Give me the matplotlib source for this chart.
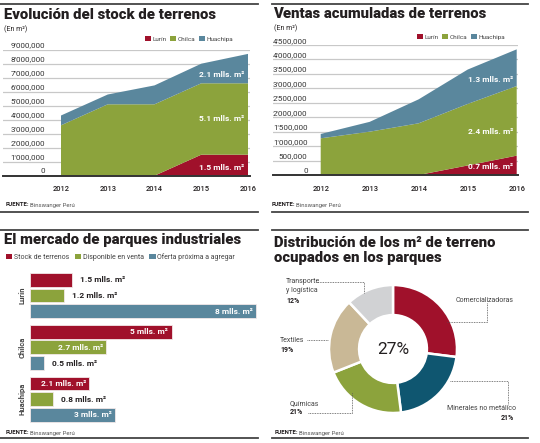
import numpy as np
import matplotlib
matplotlib.use("Agg")
import matplotlib.pyplot as plt
from matplotlib.patches import Patch
from matplotlib.lines import Line2D
from matplotlib.transforms import blended_transform_factory

plt.rcParams['font.family'] = ['Roboto', 'DejaVu Sans']

# ---- data ----
years = ["2012", "2013", "2014", "2015", "2016"]
zones = ["Lurín", "Chilca", "Huachipa"]

stock_lurin = [0, 0, 0, 1.5e6, 1.5e6]
stock_chilca = [3.6e6, 5.1e6, 5.1e6, 5.1e6, 5.1e6]
stock_huachipa = [0.7e6, 0.7e6, 1.35e6, 1.4e6, 2.1e6]
stock_ticks = np.arange(0, 9.5e6, 1e6)
stock_labels = ["1.5 mlls. m²", "5.1 mlls. m²", "2.1 mlls. m²"]

ventas_lurin = [0, 0, 0, 0.33e6, 0.67e6]
ventas_chilca = [1.27e6, 1.5e6, 1.79e6, 2.13e6, 2.41e6]
ventas_huachipa = [0.15e6, 0.34e6, 0.83e6, 1.19e6, 1.27e6]
ventas_ticks = np.arange(0, 4.75e6, 5e5)
ventas_labels = ["0.7 mlls. m²", "2.4 mlls. m²", "1.3 mlls. m²"]

bar_series = ["Stock de terrenos", "Disponible en venta", "Oferta próxima a agregar"]
bar_stock = [1.5, 5, 2.1]
bar_disp = [1.2, 2.7, 0.8]
bar_oferta = [8, 0.5, 3]

sectores = ["Comercializadoras", "Minerales no metálico", "Químicas", "Textiles", "Transporte\ny logística"]
sector_pct = [27, 21, 21, 19, 12]

RED = "#a0112b"
GREEN = "#8ca33c"
BLUE = "#5a879d"
TEAL = "#0f5670"
TAN = "#c9b896"
GRAY = "#d1d2d4"
DARK = "#231f20"

W, H = 540, 443
fig = plt.figure(figsize=(W / 100, H / 100), dpi=100)


def fx(x):
    return x / W


def fy(y):
    return 1 - y / H


def px_axes(x0, y0, x1, y1):
    return fig.add_axes([fx(x0), fy(y1), fx(x1 - x0), (y1 - y0) / H])


def rule(x0, x1, y):
    fig.add_artist(Line2D([fx(x0), fx(x1)], [fy(y), fy(y)], color="#444444", lw=1.3))


def title(x, y, txt):
    fig.text(fx(x), fy(y), txt, fontsize=10.7, fontweight="heavy", color=DARK, va="center")


def fuente(x, y):
    fig.text(fx(x), fy(y), "FUENTE:", fontsize=4.3, fontweight="bold", color=DARK, va="center")
    fig.text(fx(x + 24), fy(y), "Binswanger Perú", fontsize=4.3, color="#555555", va="center")


def fmt_num(v):
    v = int(round(v))
    if v == 0:
        return "0"
    m, t = divmod(v // 1000, 1000)
    if m:
        return f"{m}'{t:03d},000"
    return f"{t},000"


def area_panel(ax, lur, chi, hua, ticks, ymax, xlim, lab_x, labels, label_y):
    x = np.arange(len(years))
    ax.stackplot(x, lur, chi, hua, colors=[RED, GREEN, BLUE], lw=0)
    ax.set_xlim(*xlim)
    ax.set_ylim(0, ymax)
    for s in ax.spines.values():
        s.set_visible(False)
    for t in ticks[1:]:
        ax.axhline(t, color="#c8c8c8", lw=0.9, zorder=0)
    ax.axhline(0, color="#333333", lw=1.4, zorder=3, clip_on=False)
    ax.set_yticks([])
    ax.set_xticks(x)
    ax.set_xticklabels(years, fontsize=5.4, color=DARK, fontweight="medium")
    ax.tick_params(axis="x", length=0, pad=7)
    tr = blended_transform_factory(ax.transAxes, ax.transData)
    for t in ticks:
        ax.text(lab_x, t + ymax * 0.01, fmt_num(t), transform=tr, ha="right", va="bottom",
                fontsize=5.8, color="#333333")
    for v, txt in zip(label_y, labels):
        ax.text(3.93, v, txt, ha="right", va="center", fontsize=6, fontweight="bold", color="white")


def small_legend(x, y, names, colors, spacing, size=4.6):
    handles = [Patch(facecolor=c, edgecolor="none") for c in colors]
    fig.legend(handles, names, loc="center left", bbox_to_anchor=(fx(x), fy(y)), ncol=len(names),
               frameon=False, fontsize=size, handlelength=0.9, handleheight=0.9, handletextpad=0.25,
               columnspacing=spacing, borderpad=0, borderaxespad=0, labelcolor="#444444")


# ---- panel 1: evolucion del stock ----
rule(0, 258, 4)
title(4, 15, "Evolución del stock de terrenos")
fig.text(fx(4), fy(29), "(En m²)", fontsize=5, color=DARK, va="center")
small_legend(145, 39, zones, [RED, GREEN, BLUE], 0.6)
ax1 = px_axes(3, 49.7, 250, 175.7)
area_panel(ax1, stock_lurin, stock_chilca, stock_huachipa, stock_ticks, 9e6,
           ((3 - 61) / 46.75, 4 + 2 / 46.75), 0.17, stock_labels, [0.62e6, 4.1e6, 7.2e6])
fuente(6, 205)
rule(0, 258, 212)

# ---- panel 2: ventas acumuladas ----
rule(272, 528, 4)
title(273, 14, "Ventas acumuladas de terrenos")
fig.text(fx(274), fy(28), "(En m²)", fontsize=5, color=DARK, va="center")
small_legend(417, 37, zones, [RED, GREEN, BLUE], 0.6)
ax2 = px_axes(272.7, 45, 518, 175)
area_panel(ax2, ventas_lurin, ventas_chilca, ventas_huachipa, ventas_ticks, 4.5e6,
           ((272.7 - 320.7) / 49, 4 + 1.3 / 49), 0.142, ventas_labels, [0.28e6, 1.49e6, 3.32e6])
fuente(272, 205)
rule(272, 528, 212)

# ---- panel 3: mercado de parques ----
rule(0, 258, 230)
title(4, 240, "El mercado de parques industriales")
small_legend(6, 257, bar_series, [RED, GREEN, BLUE], 0.8, size=5.0)
ax3 = px_axes(30, 270, 260, 425)
series = [bar_stock, bar_disp, bar_oferta]
colors = [RED, GREEN, BLUE]
xmax = 230 / 28.3
for i, (vals, c) in enumerate(zip(series, colors)):
    pos = np.arange(len(zones)) * 3.3 + i
    ax3.barh(pos, vals, height=0.88, color=c, edgecolor="#f2e8e8", lw=0.6)
    for p, v in zip(pos, vals):
        txt = f"{v:g} mlls. m²"
        if v >= 2:
            ax3.text(v - 0.12, p, txt, ha="right", va="center", fontsize=6, fontweight="bold", color="white")
        else:
            ax3.text(v + 0.28, p, txt, ha="left", va="center", fontsize=6, fontweight="bold", color=DARK)
ax3.set_xlim(0, xmax)
ax3.set_ylim(8.6 + 10 / 15.73, -9.7 / 15.73)
ax3.axis("off")
for g, name in enumerate(zones):
    ax3.text(-8.3 / 28.3, g * 3.3 + 1, name, rotation=90, ha="center", va="center",
             fontsize=5.5, fontweight="bold", color="#444444")
fuente(6, 433)
rule(0, 258, 438)

# ---- panel 4: distribucion ----
rule(272, 528, 230)
title(274, 243, "Distribución de los m² de terreno")
title(274, 258, "ocupados en los parques")
R = 64
cx, cy = 393, 349
ax4 = px_axes(cx - R, cy - R, cx + R, cy + R)
ax4.pie(sector_pct, colors=[RED, TEAL, GREEN, TAN, GRAY], startangle=90, counterclock=False,
        wedgeprops=dict(width=0.47, edgecolor="white", linewidth=1.8))
ax4.set_xlim(-1, 1)
ax4.set_ylim(-1, 1)
ax4.text(0, 0, f"{sector_pct[0]}%", ha="center", va="center", fontsize=12.5, color=DARK)


def leader(pts):
    xs = [fx(p[0]) for p in pts]
    ys = [fy(p[1]) for p in pts]
    fig.add_artist(Line2D(xs, ys, color="#555555", lw=0.6, ls=(0, (1, 1))))


leader([(316, 282.3), (364.3, 282.3), (364.3, 293.3)])
leader([(486.7, 303.3), (486.7, 321.7), (446.7, 321.7)])
leader([(307.3, 340), (328.3, 340)])
leader([(308.3, 413.3), (351.7, 413.3), (351.7, 391.7)])
leader([(450, 381), (508.3, 381), (508.3, 405)])

lab_kw = dict(fontsize=5.0, color="#444444", va="center")
pct_kw = dict(fontsize=5.0, color=DARK, fontweight="bold", va="center")
fig.text(fx(286), fy(281.7), "Transporte", **lab_kw)
fig.text(fx(286), fy(290.7), "y logística", **lab_kw)
fig.text(fx(286), fy(301), f"{sector_pct[4]}%", **pct_kw)
fig.text(fx(455.7), fy(300), sectores[0], **lab_kw)
fig.text(fx(280), fy(340), sectores[3], **lab_kw)
fig.text(fx(280), fy(350), f"{sector_pct[3]}%", **pct_kw)
fig.text(fx(290), fy(403.3), sectores[2], **lab_kw)
fig.text(fx(290), fy(411.7), f"{sector_pct[2]}%", **pct_kw)
fig.text(fx(447.3), fy(408.3), sectores[1], **lab_kw)
fig.text(fx(514), fy(417.7), f"{sector_pct[1]}%", ha="right", **pct_kw)
fuente(275, 433)
rule(272, 528, 438)

fig.savefig("out.png", dpi=100)
